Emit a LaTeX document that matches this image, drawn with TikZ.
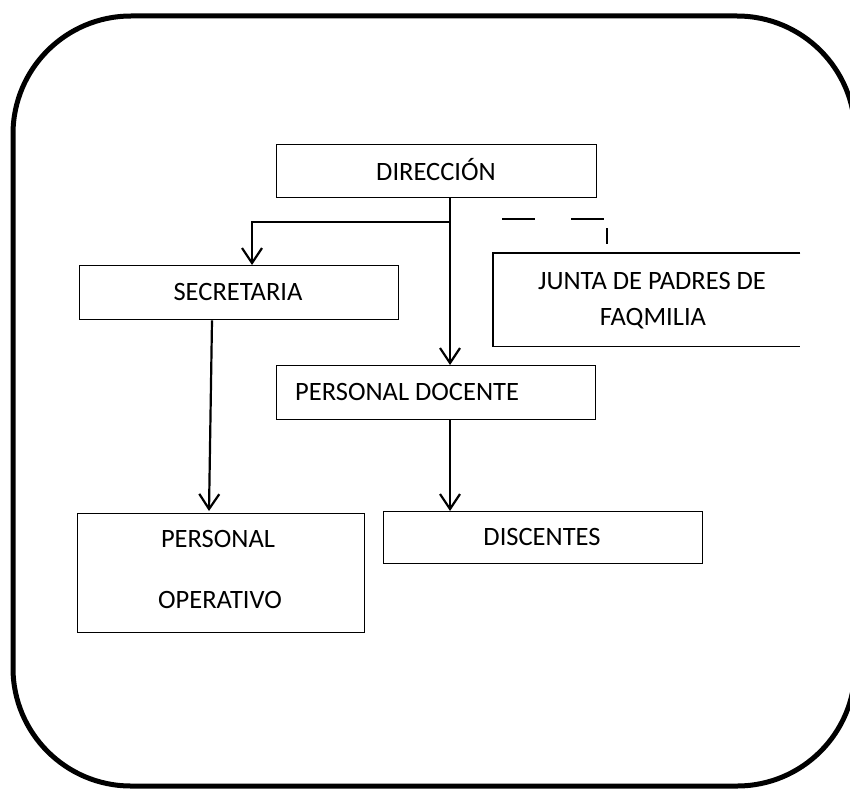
\documentclass[tikz,border=0pt]{standalone}
\usepackage{fontspec}
\setmainfont{Carlito}
\usetikzlibrary{arrows.meta}
\begin{document}
\begin{tikzpicture}[x=1pt,y=-1pt,
  box/.style={draw,line width=1.3pt,inner sep=0pt,anchor=north west},
  frame/.style={inner sep=0pt,anchor=north west},
  lbl/.style={anchor=base,inner sep=0pt,font=\fontsize{26.5}{30}\selectfont},
  conn/.style={line width=2.2pt,-{Straight Barb[length=15pt,width=20pt,line width=2.2pt]}},
  plain/.style={line width=2.2pt}]
\useasboundingbox (0,0) rectangle (850,789);
% outer rounded frame (its right side lies outside the picture)
\begin{scope}[y=1pt,shift={(0,-789pt)}]
\draw[line width=5pt]
  (855,121) arc[start angle=0,end angle=-90,radius=118pt]
  -- (131,3) arc[start angle=270,end angle=180,radius=118pt]
  -- (13,655) arc[start angle=180,end angle=90,radius=118pt]
  -- (737,773) arc[start angle=90,end angle=0,radius=118pt];
\end{scope}
% boxes
\node[box,minimum width=320pt,minimum height=53pt] (dir) at (276,144) {};
\node[box,minimum width=319pt,minimum height=54pt] (sec) at (79,265) {};
\node[box,minimum width=319pt,minimum height=54pt] (doc) at (276,365) {};
\node[frame,minimum width=307pt,minimum height=93pt] (jun) at (493,253) {};
\draw[line width=1.3pt] (jun.north east) -- (jun.north west) -- (jun.south west) -- (jun.south east);
\node[box,minimum width=287pt,minimum height=119pt] (ope) at (77,513) {};
\node[box,minimum width=319pt,minimum height=52pt] (dis) at (383,511) {};
% labels
\node[lbl] (tdir) at (436,180) {DIRECCIÓN};
\node[lbl] (tsec) at (238,300) {SECRETARIA};
\node[lbl,anchor=base west] (tdoc) at (295,400) {PERSONAL DOCENTE};
\node[lbl] (tjun1) at (652,289) {JUNTA DE PADRES DE};
\node[lbl] (tjun2) at (653,325) {FAQMILIA};
\node[lbl] (tope1) at (218,547) {PERSONAL};
\node[lbl] (tope2) at (220,608) {OPERATIVO};
\node[lbl] (tdis) at (542,545) {DISCENTES};
% connectors
\coordinate (br) at (450,222);
\draw[conn] (dir.south -| br) -- (doc.north -| br);
\draw[conn] (br) -| (sec.north -| 252,0);
\draw[conn] (sec.south -| 212,0) -- (209,511);
\draw[conn] (doc.south -| 450,0) -- (dis.north -| 450,0);
% dashes
\coordinate (d1a) at (502,219); \coordinate (d1b) at (535,219);
\coordinate (d2a) at (571,219); \coordinate (d2b) at (604,219);
\coordinate (d3a) at (607,228); \coordinate (d3b) at (607,244);
\draw[line width=1.6pt] (d1a) -- (d1b) (d2a) -- (d2b);
\draw[line width=1.6pt] (d3a) -- (d3b);
\end{tikzpicture}
\end{document}
